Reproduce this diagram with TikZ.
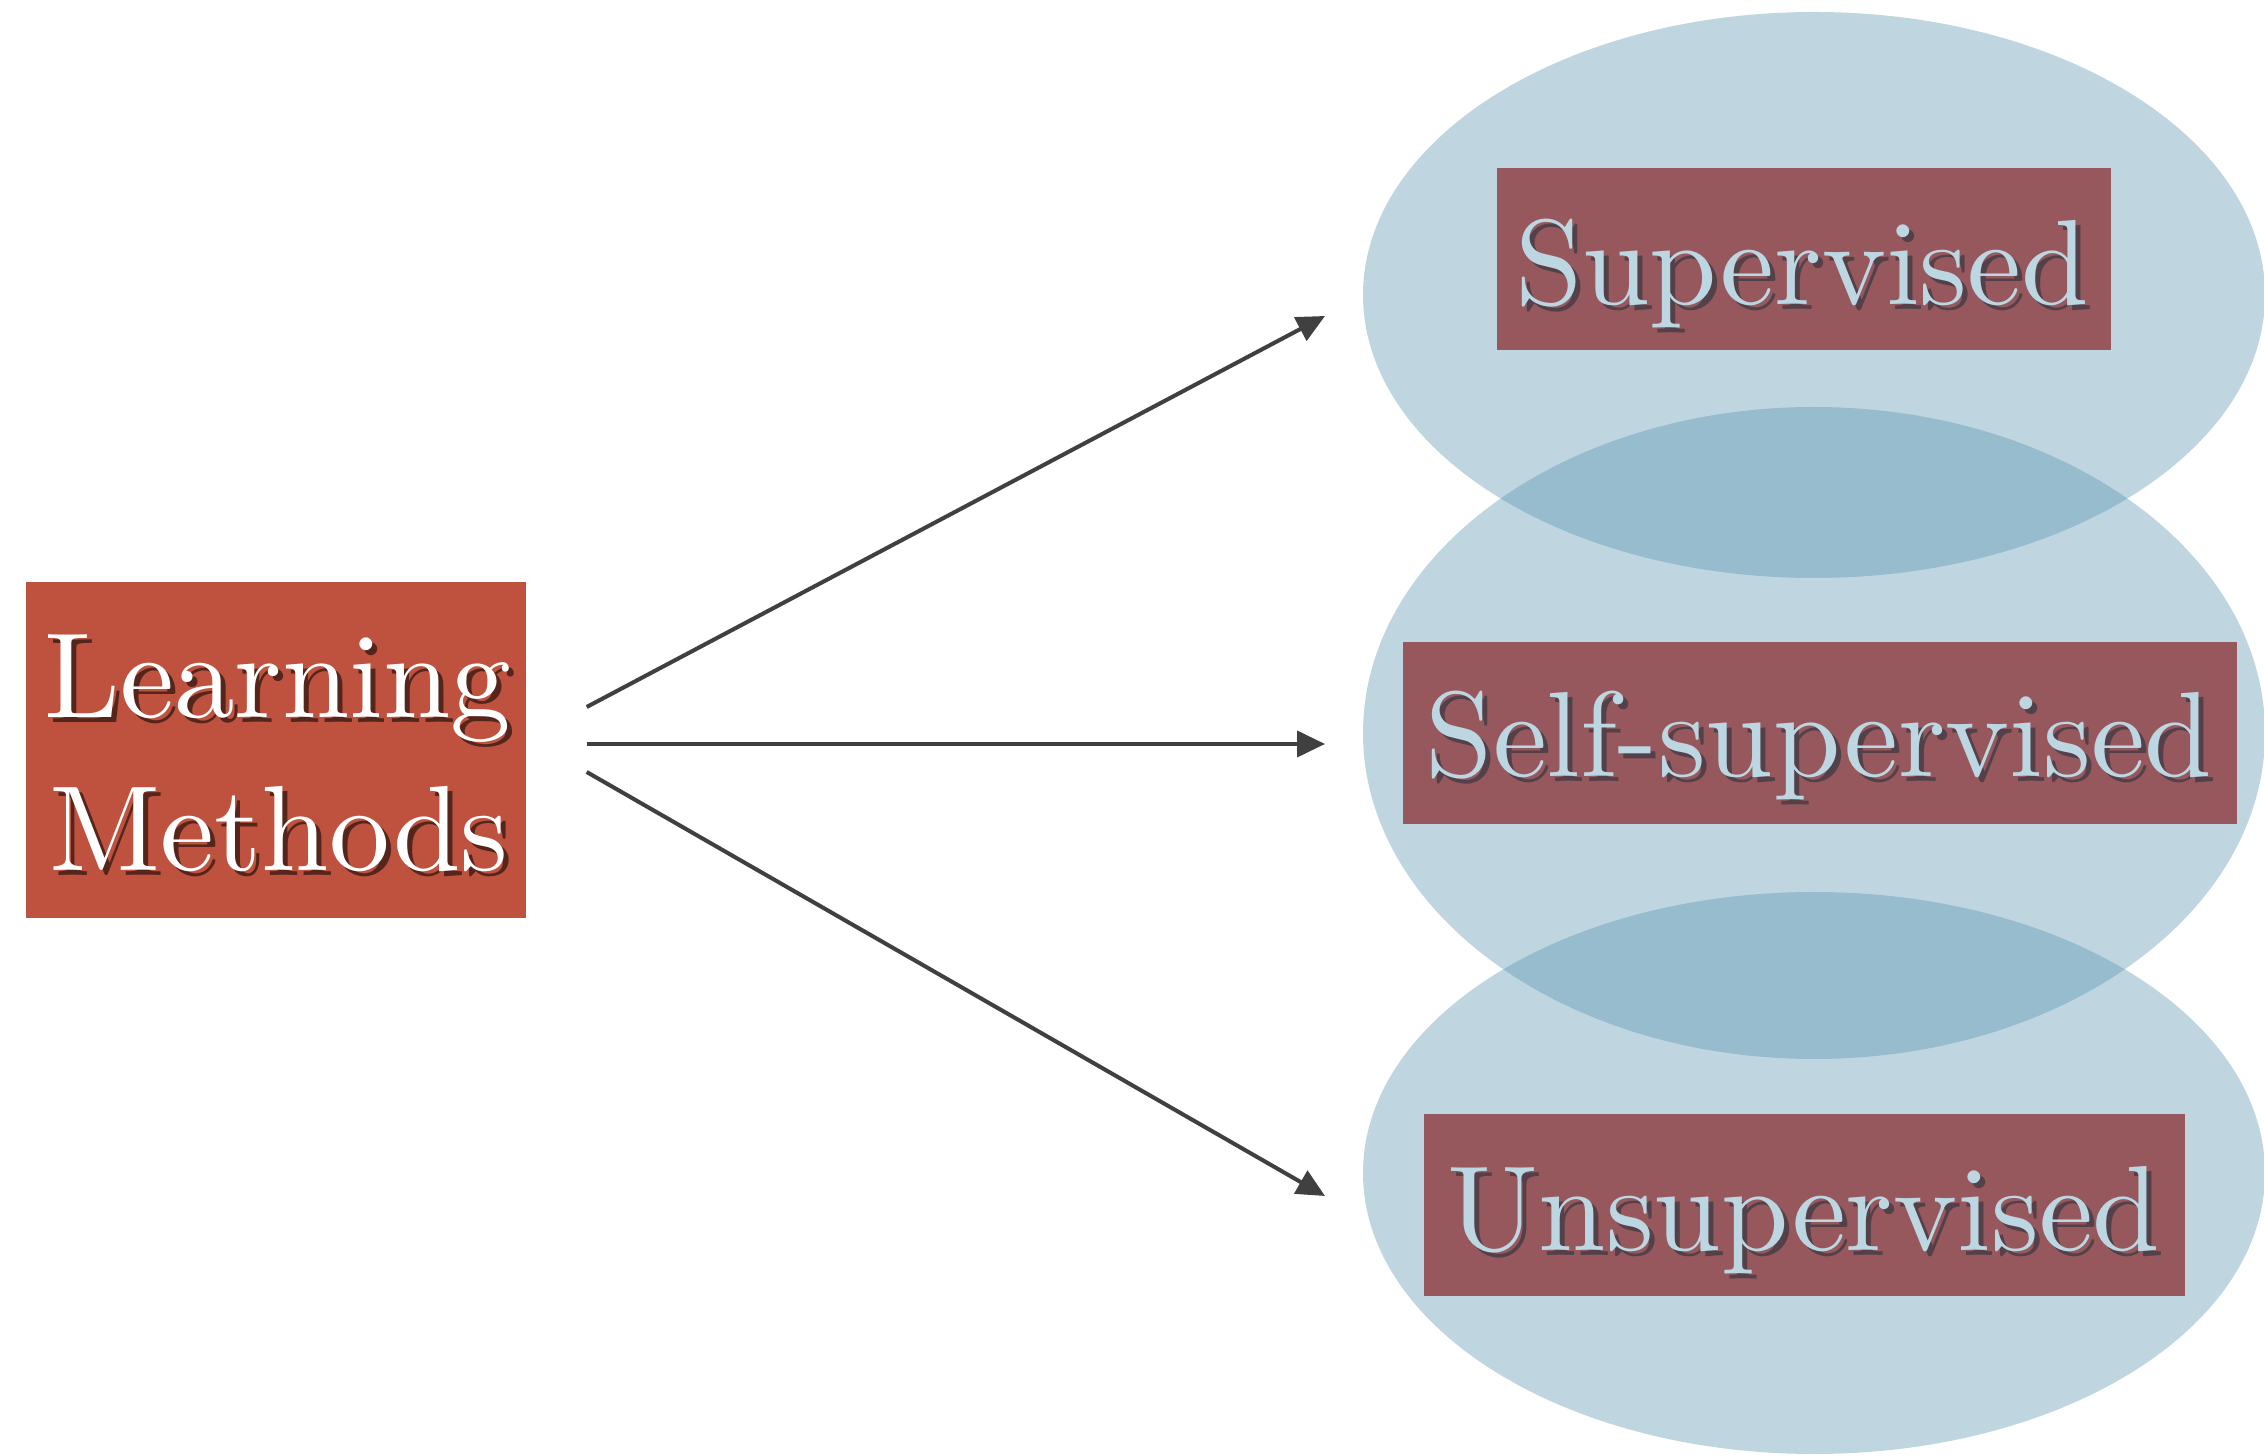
\documentclass[tikz,border=0pt]{standalone}
\usepackage{fontspec}
\setmainfont{lmroman10-regular}[Extension=.otf]
\usetikzlibrary{arrows.meta,calc,shapes.geometric}
\definecolor{lmred}{RGB}{190,82,62}
\definecolor{boxred}{RGB}{150,88,92}
\definecolor{ltblue}{RGB}{188,214,226}
\definecolor{ellblue}{RGB}{72,138,169}
\definecolor{arrowgray}{RGB}{64,64,64}
\definecolor{darkshade}{RGB}{30,45,58}
\newcommand\shadowtext[5]{%
  \node[bigfont, text=#4, text opacity=0.55] (#1s) at ($(#2)+(0.05,-0.05)$) {#5};
  \node[bigfont, #3] (#1) at (#2) {#5};}
\begin{document}
\begin{tikzpicture}[
  ellnode/.style={ellipse, fill=ellblue, fill opacity=0.35, minimum width=9.02cm, inner sep=0pt},
  mainbox/.style={fill=lmred, minimum width=5cm, minimum height=3.36cm, inner sep=0pt},
  subbox/.style={fill=boxred, minimum height=1.82cm, inner sep=0pt},
  bigfont/.style={font=\fontsize{34.5}{40}\selectfont, inner sep=0pt, anchor=base},
  whitetxt/.style={text=white},
  bluetxt/.style={text=ltblue},
  arr/.style={draw=arrowgray, line width=1.15pt, -{Triangle[length=0.28cm,width=0.26cm]}}
]
\useasboundingbox (0,0) rectangle (22.64,14.55);
\clip (0,0) rectangle (22.64,14.55);

% ellipses
\node[ellnode, minimum height=5.66cm] (ellA) at (18.14,11.60) {};
\node[ellnode, minimum height=6.52cm] (ellB) at (18.14,7.22) {};
\node[ellnode, minimum height=5.62cm] (ellC) at (18.14,2.82) {};

% boxes
\node[mainbox] (lm) at (2.76,7.05) {};
\node[subbox, minimum width=6.14cm] (sup) at (18.04,11.96) {};
\node[subbox, minimum width=8.34cm] (self) at (18.20,7.22) {};
\node[subbox, minimum width=7.61cm] (unsup) at (18.045,2.50) {};

% texts
\shadowtext{lmA}{2.78,7.37}{whitetxt}{black}{Learning}
\shadowtext{lmB}{2.79,5.84}{whitetxt}{black}{Methods}
\shadowtext{supT}{18.02,11.50}{bluetxt}{darkshade}{Supervised}
\shadowtext{selfT}{18.19,6.78}{bluetxt}{darkshade}{Self-supervised}
\shadowtext{unsupT}{18.04,2.05}{bluetxt}{darkshade}{Unsupervised}

% arrows
\coordinate (s1) at ($(lm.east)+(0.60,0.43)$);
\coordinate (s2) at ($(lm.east)+(0.60,0.06)$);
\coordinate (s3) at ($(lm.east)+(0.60,-0.22)$);
\coordinate (e1) at (13.25,11.39);
\coordinate (e2) at (13.25,7.11);
\coordinate (e3) at (13.25,2.59);
\draw[arr] (s1) -- (e1);
\draw[arr] (s2) -- (e2);
\draw[arr] (s3) -- (e3);
\end{tikzpicture}
\end{document}
